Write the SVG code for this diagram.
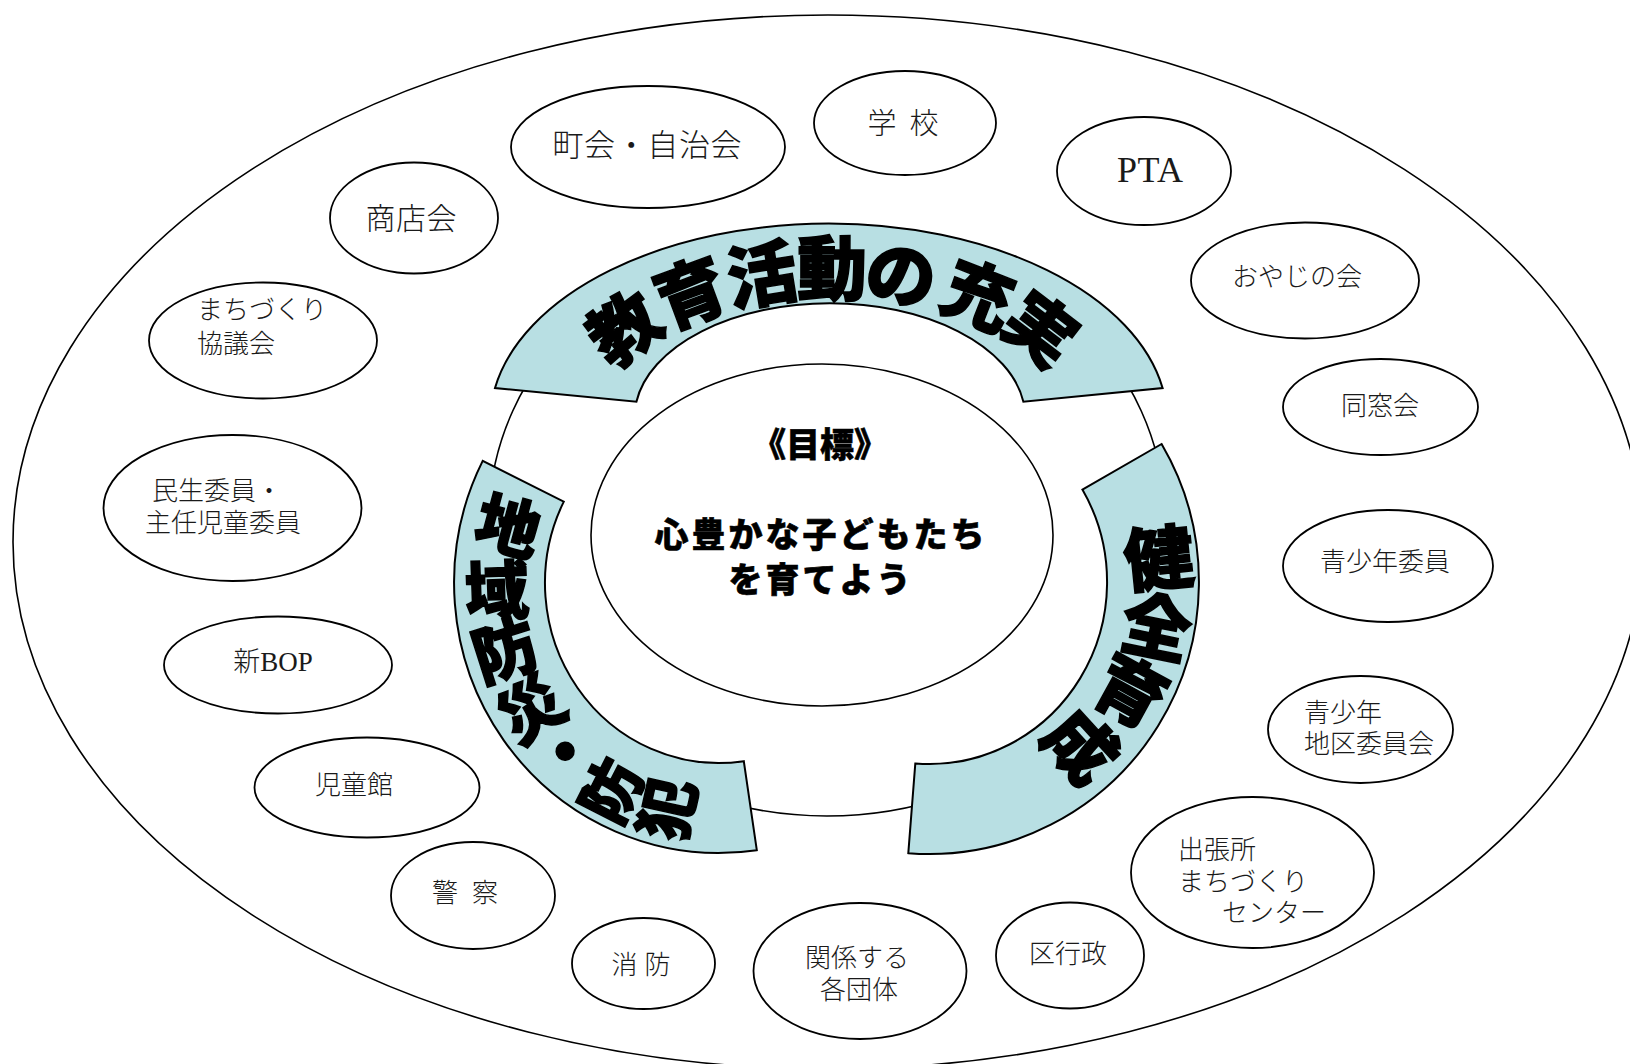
<svg xmlns="http://www.w3.org/2000/svg" width="1630" height="1064" viewBox="0 0 1630 1064">
<style>
  .frame{fill:#fff;stroke:#000;stroke-width:1.6}
  .node ellipse{fill:#fff;stroke:#000;stroke-width:1.8}
  .lbl{font-family:"Liberation Serif","Noto Sans CJK JP",serif;font-size:26px;font-weight:300;fill:#1a1a1a}
  .mid{text-anchor:middle}
  .band{fill:#B8DFE3;stroke:#000;stroke-width:2}
  .ring{fill:#fff;stroke:#000;stroke-width:1.6}
  .bt{font-family:"Noto Sans CJK JP",sans-serif;font-weight:900;fill:#000;stroke:#000;stroke-width:1.5;text-anchor:middle}
  .goal{font-family:"Noto Sans CJK JP",sans-serif;font-weight:900;fill:#000;stroke:#000;stroke-width:0.6;text-anchor:middle}
</style>

<ellipse id="outer" class="frame" cx="828" cy="542" rx="815" ry="527"/>

<g id="nodes">
  <g id="n-chokai" class="node"><ellipse cx="648" cy="147" rx="137" ry="61"/><text class="lbl mid" x="647" y="156" style="font-size:31px" textLength="189">町会・自治会</text></g>
  <g id="n-gakko" class="node"><ellipse cx="905" cy="123" rx="91" ry="52"/><text class="lbl mid" x="903" y="134" style="font-size:29px" textLength="71">学 校</text></g>
  <g id="n-pta" class="node"><ellipse cx="1144" cy="171" rx="87" ry="54"/><text class="lbl mid" x="1150" y="182" style="font-size:36px;font-weight:400" textLength="66">PTA</text></g>
  <g id="n-oyaji" class="node"><ellipse cx="1305" cy="280.5" rx="114" ry="58"/><text class="lbl mid" x="1297" y="286">おやじの会</text></g>
  <g id="n-dosokai" class="node"><ellipse cx="1380.5" cy="407" rx="97.5" ry="48"/><text class="lbl mid" x="1380" y="415">同窓会</text></g>
  <g id="n-seishonen" class="node"><ellipse cx="1388" cy="566" rx="105" ry="56"/><text class="lbl mid" x="1385" y="571">青少年委員</text></g>
  <g id="n-chiku" class="node"><ellipse cx="1360.5" cy="729.5" rx="92.5" ry="53.5"/><text class="lbl" x="1304" y="722">青少年</text><text class="lbl" x="1304" y="753">地区委員会</text></g>
  <g id="n-shuchojo" class="node"><ellipse cx="1252.5" cy="872.5" rx="121.5" ry="75.5"/><text class="lbl" x="1178" y="859">出張所</text><text class="lbl" x="1178" y="891">まちづくり</text><text class="lbl" x="1222" y="922">センター</text></g>
  <g id="n-kugyosei" class="node"><ellipse cx="1070" cy="955.5" rx="74" ry="53"/><text class="lbl mid" x="1068" y="963">区行政</text></g>
  <g id="n-kankei" class="node"><ellipse cx="860" cy="971" rx="106.5" ry="68"/><text class="lbl mid" x="857" y="967">関係する</text><text class="lbl mid" x="859" y="999">各団体</text></g>
  <g id="n-shobo" class="node"><ellipse cx="643.5" cy="963.5" rx="71.5" ry="45.5"/><text class="lbl mid" x="641" y="974" textLength="59">消 防</text></g>
  <g id="n-keisatsu" class="node"><ellipse cx="473" cy="895.5" rx="82" ry="53.5"/><text class="lbl mid" x="465" y="902" textLength="66">警 察</text></g>
  <g id="n-jidokan" class="node"><ellipse cx="367" cy="787.5" rx="112.5" ry="50"/><text class="lbl mid" x="354" y="794">児童館</text></g>
  <g id="n-bop" class="node"><ellipse cx="278" cy="665" rx="114" ry="48.5"/><text class="lbl mid" x="273" y="671" style="font-size:27px">新BOP</text></g>
  <g id="n-minsei" class="node"><ellipse cx="232.5" cy="508" rx="129" ry="73"/><text class="lbl" x="152" y="500">民生委員・</text><text class="lbl" x="145" y="532">主任児童委員</text></g>
  <g id="n-machizukuri" class="node"><ellipse cx="263" cy="340.5" rx="114" ry="58"/><text class="lbl" x="197" y="319">まちづくり</text><text class="lbl" x="197" y="353">協議会</text></g>
  <g id="n-shotenkai" class="node"><ellipse cx="414" cy="218" rx="84" ry="55.5"/><text class="lbl mid" x="411" y="229" style="font-size:30px" textLength="91">商店会</text></g>
</g>

<g id="hub">
  <ellipse id="ring" class="ring" cx="827" cy="520" rx="338" ry="296"/>

  <g id="band-top">
    <path class="band" d="M495,388 A338.7,198 0 0 1 1162.6,388 L1023.4,401.7 A195.4,114.3 0 0 0 636.4,401.7 Z"/>
    <g style="font-size:70px">
      <text class="bt" x="625" y="329" dy="0.36em" transform="rotate(-37 625 329)">教</text>
      <text class="bt" x="691" y="294" dy="0.36em" transform="rotate(-20.4 691 294)">育</text>
      <text class="bt" x="762" y="275.6" dy="0.36em" transform="rotate(-9.2 762 275.6)">活</text>
      <text class="bt" x="832" y="270" dy="0.36em">動</text>
      <text class="bt" x="901" y="276" dy="0.36em" transform="rotate(9.5 901 276)">の</text>
      <text class="bt" x="978" y="296" dy="0.36em" transform="rotate(21.3 978 296)">充</text>
      <text class="bt" x="1040" y="330" dy="0.36em" transform="rotate(37.4 1040 330)">実</text>
    </g>
  </g>

  <g id="band-left">
    <path class="band" d="M482.7,460.9 A265,270 0 0 0 756.8,850.2 L743.8,761.2 A174,180 0 0 1 563.8,501.6 Z"/>
    <g style="font-size:64px">
      <text class="bt" x="508" y="527" dy="0.36em" transform="rotate(15 508 527)">地</text>
      <text class="bt" x="497" y="591" dy="0.36em" transform="rotate(-2 497 591)">域</text>
      <text class="bt" x="505" y="651" dy="0.36em" transform="rotate(-17.6 505 651)">防</text>
      <text class="bt" x="532" y="710" dy="0.36em" transform="rotate(-34 532 710)">災</text>
      <text class="bt" x="566" y="752" dy="0.36em" transform="rotate(-48 566 752)">・</text>
      <text class="bt" x="612" y="791" dy="0.36em" transform="rotate(-63 612 791)" style="font-size:61px">防</text>
      <text class="bt" x="668" y="809" dy="0.36em" transform="rotate(-77.5 668 809)" style="font-size:61px">犯</text>
    </g>
  </g>

  <g id="band-right">
    <path class="band" d="M1161.6,444 A270,272 0 0 1 908.3,853.2 L915.3,763.5 A178,182 0 0 0 1082.4,489.6 Z"/>
    <g style="font-size:70px">
      <text class="bt" x="1159" y="559" dy="0.36em" transform="rotate(-5.7 1159 559)">健</text>
      <text class="bt" x="1156" y="628" dy="0.36em" transform="rotate(11.5 1156 628)">全</text>
      <text class="bt" x="1130" y="692" dy="0.36em" transform="rotate(28.7 1130 692)">育</text>
      <text class="bt" x="1080" y="747" dy="0.36em" transform="rotate(47.5 1080 747)">成</text>
    </g>
  </g>

  <g id="goal">
    <ellipse class="ring" cx="822" cy="535" rx="231" ry="171"/>
    <text class="goal" x="820" y="457" style="font-size:34px">《目標》</text>
    <text class="goal" x="821" y="547" style="font-size:34px;letter-spacing:3px">心豊かな子どもたち</text>
    <text class="goal" x="821" y="592" style="font-size:34px;letter-spacing:3px">を育てよう</text>
  </g>
</g>
</svg>
